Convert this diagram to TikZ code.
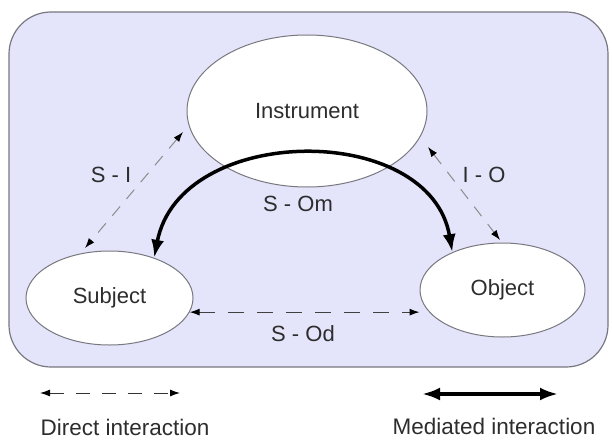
\documentclass[tikz,border=0pt]{standalone}
\usepackage{fontspec}
\setmainfont{Liberation Sans}
\usetikzlibrary{arrows.meta,shapes.geometric}
\definecolor{bgfill}{RGB}{228,228,250}
\definecolor{edgegray}{RGB}{120,120,128}
\definecolor{txt}{RGB}{45,45,45}
\begin{document}
\begin{tikzpicture}[x=1pt,y=-1pt,
  ell/.style={ellipse, draw=edgegray, fill=white, line width=1pt, inner sep=0pt, font=\fontsize{22}{26}\selectfont, text=txt},
  lbl/.style={font=\fontsize{22}{26}\selectfont, text=txt, inner sep=1pt},
  legtxt/.style={font=\fontsize{22.5}{26}\selectfont, text=txt, inner sep=0pt},
  dasharr/.style={draw=black!45, line width=1pt, dash pattern=on 12pt off 10pt, {Latex[length=10pt,width=7pt,black]}-{Latex[length=10pt,width=7pt,black]}},
  dasharrdark/.style={dasharr, draw=black!75, dash pattern=on 16pt off 13pt},
  thickarr/.style={draw=black, line width=3.5pt, {Latex[length=18pt,width=13pt]}-{Latex[length=18pt,width=13pt]}}
]
\useasboundingbox (0,0) rectangle (612,441);
\draw[draw=edgegray, fill=bgfill, line width=1.2pt, rounded corners=42pt] (9,12) rectangle (608,367);

\node[ell, minimum width=240pt, minimum height=152pt] (ins) at (307,111) {Instrument};
\node[ell, minimum width=167pt, minimum height=94pt] (sub) at (109.5,298) {Subject};
\node[ell, minimum width=165pt, minimum height=94pt] (obj) at (502.5,290) {Object};

\coordinate (siT) at (183,132);
\coordinate (siB) at (85,248);
\coordinate (ioT) at (428,147);
\coordinate (ioB) at (500,240);
\draw[dasharr] (siT) -- (siB);
\draw[dasharr] (ioT) -- (ioB);
\draw[dasharrdark] (sub.-10) -- (sub.-10 -| obj.west);
\draw[thickarr] (sub.42) .. controls (180,123) and (430,121) .. (obj.143);

\node[lbl] (lsi) at (111,174.5) {S - I};
\node[lbl] (lio) at (484,174.5) {I - O};
\node[lbl] (lsom) at (298,204) {S - Om};
\node[lbl] (lsod) at (303,334) {S - Od};

\coordinate (d1) at (40,393);
\coordinate (d2) at (180,393);
\coordinate (m1) at (422,394);
\coordinate (m2) at (558,394);
\draw[dasharrdark, draw=black!80, dash pattern=on 14pt off 12pt] (d1) -- (d2);
\draw[thickarr] (m1) -- (m2);
\node[legtxt] (ldir) at (125,427) {Direct interaction};
\node[legtxt] (lmed) at (494,426.5) {Mediated interaction};
\end{tikzpicture}
\end{document}
